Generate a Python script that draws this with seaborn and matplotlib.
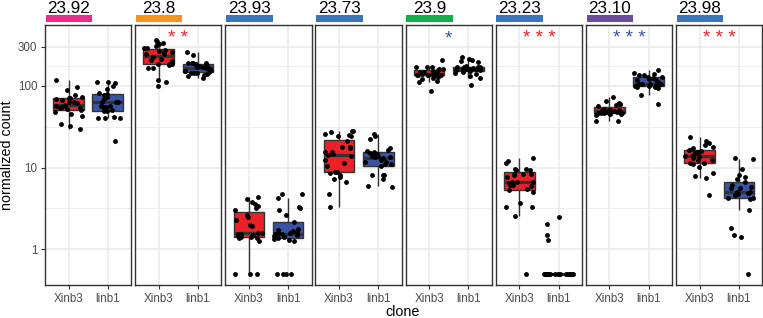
import numpy as np
import pandas as pd
import matplotlib
matplotlib.use("Agg")
import matplotlib.pyplot as plt
import seaborn as sns
from matplotlib.patches import Rectangle

# ---------------- data ----------------
facets = ["23.92", "23.8", "23.93", "23.73", "23.9", "23.23", "23.10", "23.98"]
strip_colors = ["#EC2C8C", "#F7941D", "#3B75BC", "#3B75BC", "#12AF4B", "#3B75BC", "#6B4C9C", "#3B75BC"]
clones = ["Xinb3", "linb1"]
clone_colors = ["#EC2027", "#3A54A4"]
stars = ["", "* *", "", "", "*", "* * *", "* * *", "* * *"]
star_colors = ["#EC2027", "#EC2027", "#EC2027", "#EC2027", "#3A54A4", "#EC2027", "#3A54A4", "#EC2027"]
y_ticks = [1, 10, 100, 300]
y_ticklabels = ["1", "10", "100", "300"]

xinb3_2392 = [118, 96, 88, 78, 73, 71, 71, 69, 66, 64, 63, 62, 58, 56, 55, 54, 54, 52, 50, 48, 45, 43, 34, 32, 30]
linb1_2392 = [111, 111, 109, 99, 92, 82, 80, 76, 73, 69, 64, 63, 63, 56, 56, 55, 55, 50, 49, 49, 41, 40, 40, 40, 21]
xinb3_238 = [364, 344, 330, 319, 302, 291, 285, 275, 269, 260, 257, 246, 241, 223, 213, 204, 198, 185, 185, 185, 178, 166, 164, 118, 112, 98]
linb1_238 = [255, 236, 192, 189, 189, 185, 185, 192, 175, 172, 169, 166, 163, 169, 166, 157, 151, 148, 143, 143, 140, 137, 132, 125, 151, 145]
xinb3_2393 = [4.4, 4.07, 3.78, 3.57, 3.37, 3.19, 3.0, 2.6, 2.5, 2.28, 2.0, 1.92, 1.6, 1.57, 1.54, 1.52, 1.49, 1.45, 1.43, 1.40, 1.38, 1.36, 1.25, 0.5, 0.5, 0.5]
linb1_2393 = [4.8, 4.7, 4.3, 3.3, 3.2, 3.07, 2.64, 2.19, 1.78, 1.72, 1.69, 1.63, 1.6, 1.58, 1.55, 1.54, 1.51, 1.5, 1.45, 1.42, 1.40, 1.38, 1.35, 1.32, 1.27, 0.5, 0.5, 0.5, 0.5]
xinb3_2373 = [28, 28, 26.9, 25.5, 25, 24.1, 24.1, 21.1, 17.9, 17.9, 17.2, 15.4, 15.4, 14.5, 14.3, 13.7, 12.3, 11.4, 10.4, 8.9, 8.8, 8.5, 8.1, 7.6, 7.3, 6.6, 4.8, 3.25]
linb1_2373 = [25.5, 24.5, 22.3, 17.5, 16.3, 16, 15.7, 15.1, 14.8, 14, 14, 13.5, 13.5, 13, 12.5, 11.8, 11.6, 11.2, 11, 10.4, 8, 8, 8, 7.3, 6, 5.8]
xinb3_239 = [205, 170, 167, 167, 158, 155, 152, 149, 149, 147, 141, 138, 136, 136, 136, 134, 134, 134, 129, 126, 122, 115, 111, 158, 85]
linb1_239 = [226, 213, 205, 202, 194, 173, 170, 167, 167, 164, 161, 158, 158, 158, 155, 155, 152, 147, 144, 141, 131, 126, 103, 167]
xinb3_2323 = [13, 12, 11.4, 9.6, 9.3, 9.6, 9.3, 8.4, 8.3, 8.4, 8, 7.7, 6.7, 6.6, 6.6, 6.5, 6.1, 5.9, 6.1, 5.4, 5.3, 5, 3.7, 3.3, 3.3, 2.55, 0.5]
linb1_2323 = [2.5, 2.04, 1.48, 1.32] + [0.5] * 18
xinb3_2310 = [73, 65, 61, 60, 59, 58, 57, 52, 51, 51, 50, 50, 49, 48, 48, 48, 47, 47, 46, 46, 46, 45.5, 45.5, 44, 37, 37]
linb1_2310 = [157, 145, 140, 137, 137, 127, 127, 123, 118, 116, 110, 106, 104, 104, 104, 102, 100, 100, 98, 96, 96, 94, 77, 59, 120]
xinb3_2398 = [23.4, 20.9, 19.8, 19.1, 17.7, 17.3, 16.7, 16.4, 15.8, 15.5, 15.2, 14.9, 14.1, 13.8, 13.4, 12.9, 12.4, 12.2, 11.5, 11.5, 11.3, 10.9, 10.1, 8.5, 7.9, 7.5, 4.6]
linb1_2398 = [13.1, 12.6, 9.7, 8.1, 7.6, 7.2, 6.7, 6.1, 5.75, 5.6, 5.6, 5.0, 5.0, 4.9, 4.8, 4.6, 4.6, 4.3, 4.3, 4.1, 3.0, 1.8, 1.5, 1.41, 0.5]

series = {
    "23.92": (xinb3_2392, linb1_2392),
    "23.8": (xinb3_238, linb1_238),
    "23.93": (xinb3_2393, linb1_2393),
    "23.73": (xinb3_2373, linb1_2373),
    "23.9": (xinb3_239, linb1_239),
    "23.23": (xinb3_2323, linb1_2323),
    "23.10": (xinb3_2310, linb1_2310),
    "23.98": (xinb3_2398, linb1_2398),
}

rows = []
for f in facets:
    for c, vals in zip(clones, series[f]):
        for v in vals:
            rows.append({"facet": f, "clone": c, "count": v})
df = pd.DataFrame(rows)

# ---------------- style ----------------
plt.rcParams["font.family"] = ["Liberation Sans", "DejaVu Sans"]
np.random.seed(7)

W, H = 763, 318
fig = plt.figure(figsize=(W / 100, H / 100), dpi=100)
fig.patch.set_facecolor("white")

panel_top, panel_bot = 25, 285
panel_w = 86.3
lefts = [45 + 90.15 * i for i in range(8)]
ylim = (0.367, 552)

for i, f in enumerate(facets):
    left = lefts[i]
    ax = fig.add_axes([left / W, (H - panel_bot) / H, panel_w / W, (panel_bot - panel_top) / H])
    sub = df[df["facet"] == f]
    sns.boxplot(data=sub, x="clone", y="count", hue="clone", order=clones, hue_order=clones,
                palette=clone_colors, saturation=1, width=0.78, showfliers=False, showcaps=False,
                linecolor="#333333", linewidth=1.0,
                medianprops=dict(linewidth=2.3, color="#333333"),
                legend=False, ax=ax, log_scale=True)
    sns.stripplot(data=sub, x="clone", y="count", order=clones, color="black", size=3.5,
                  jitter=0.37, linewidth=0, ax=ax, log_scale=True)
    ax.set_yscale("log")
    ax.set_ylim(*ylim)
    ax.set_xlim(-0.6, 1.6)
    ax.set_axisbelow(True)
    ax.set_yticks(y_ticks)
    ax.set_yticks([10 ** 0.5, 10 ** 1.5, 10 ** ((2 + np.log10(300)) / 2)], minor=True)
    ax.yaxis.set_minor_formatter(plt.NullFormatter())
    ax.grid(True, which="major", color="#EBEBEB", lw=1.1)
    ax.grid(True, which="minor", axis="y", color="#EBEBEB", lw=0.6)
    ax.tick_params(which="minor", length=0)
    ax.set_xlabel("")
    ax.set_ylabel("")
    ax.tick_params(axis="x", length=3.0, width=0.8, color="#333333", labelsize=8.4,
                   labelcolor="#4D4D4D", pad=2.5)
    if i == 0:
        ax.set_yticklabels(y_ticklabels)
        ax.tick_params(axis="y", length=3.0, width=0.8, color="#333333", labelsize=8.4,
                       labelcolor="#4D4D4D", pad=2.5)
    else:
        ax.tick_params(axis="y", left=False, labelleft=False)
    for s in ax.spines.values():
        s.set_color("#333333")
        s.set_linewidth(1.0)
    # strip
    fig.patches.append(Rectangle(((left + 0.7) / W, (H - 22.3) / H), 46.6 / W, 7.6 / H,
                                 transform=fig.transFigure, facecolor=strip_colors[i],
                                 edgecolor="none"))
    fig.text((left + 0.7 + 23.3) / W, (H - 12.7) / H, f, ha="center", va="baseline",
             fontsize=12.3, color="black")
    if stars[i]:
        ax.text(0.5, 1 - 18.4 / 260, stars[i], transform=ax.get_xaxis_transform(),
                ha="center", va="baseline", fontsize=13.5, color=star_colors[i])

fig.text(7.5 / W, (H - 155) / H, "normalized count", rotation=90, ha="center", va="center",
         fontsize=10.3, color="black")
fig.text(403 / W, 2.5 / H, "clone", ha="center", va="baseline", fontsize=10.3, color="black")

fig.savefig("out.png", dpi=100, facecolor="white")
